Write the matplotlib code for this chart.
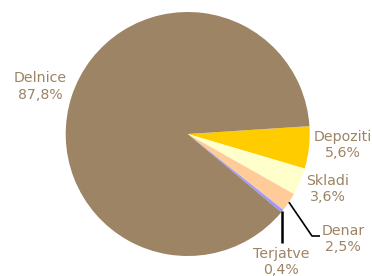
import matplotlib
matplotlib.use("Agg")
import matplotlib.pyplot as plt
import numpy as np

categories = ["Depoziti", "Skladi", "Denar", "Terjatve", "Delnice"]
values = [5.6, 3.6, 2.5, 0.4, 87.8]
value_labels = ["5,6%", "3,6%", "2,5%", "0,4%", "87,8%"]
colors = ["#FFCC00", "#FFFFCC", "#FFCC99", "#9999FF", "#9C8464"]
text_color = "#9C8464"

W, H = 372, 276
cx, cy, R = 187.7, 134.0, 122.0

def px(x, y):
    return ((x - cx) / R, (cy - y) / R)

fig = plt.figure(figsize=(W / 100, H / 100), dpi=100)
ax = fig.add_axes([0, 0, 1, 1])
wedges, _ = ax.pie(values, colors=colors, startangle=3.7, counterclock=False,
                   radius=1.0, center=(0, 0),
                   wedgeprops=dict(linewidth=0, antialiased=True))
ax.set_xlim(-cx / R, (W - cx) / R)
ax.set_ylim(-(H - cy) / R, cy / R)
ax.set_aspect("equal")
ax.axis("off")

# label positions (pixel layout)
label_pos = {
    "Depoziti": (343, 145),
    "Skladi": (328, 189),
    "Denar": (343, 239),
    "Terjatve": (281, 262),
    "Delnice": (40, 86.5),
}
for cat, vl in zip(categories, value_labels):
    x, y = px(*label_pos[cat])
    ax.text(x, y, f"{cat}\n{vl}", ha="center", va="center", color=text_color,
            fontsize=10.2, family="DejaVu Sans", linespacing=1.2)

def mid_point(w, r=1.0):
    a = np.deg2rad((w.theta1 + w.theta2) / 2)
    return r * np.cos(a), r * np.sin(a)

# Denar leader
w = wedges[categories.index("Denar")]
x0, y0 = mid_point(w)
x1, y1 = px(312, 236)
x2, y2 = px(320, 236)
ax.plot([x0, x1, x2], [y0, y1, y2], color="black", lw=1.2, solid_capstyle="butt")

# Terjatve leader
w = wedges[categories.index("Terjatve")]
x0, y0 = mid_point(w)
x1, y1 = px(0, 243)
ax.plot([x0, x0], [y0, y1], color="black", lw=1.8, solid_capstyle="butt")

fig.savefig("out.png", dpi=100)
